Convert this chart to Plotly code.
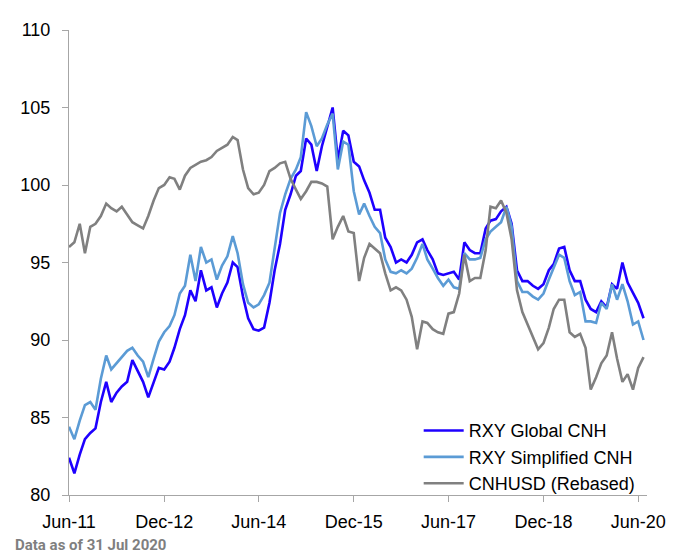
import pandas as pd
import plotly.graph_objects as go

# Month-end observation dates, Jun 2011 .. Jul 2020
dates = pd.date_range("2011-06-30", "2020-07-31", freq="ME")

rxy_global_cnh = [
    82.4, 81.4, 82.6, 83.6, 84.0, 84.3, 86.0, 87.3, 86.0, 86.6,
    87.0, 87.3, 88.7, 88.0, 87.3, 86.3, 87.3, 88.2, 88.1, 88.6,
    89.5, 90.7, 91.6, 93.2, 92.5, 94.5, 93.2, 93.4, 92.1, 93.0,
    93.7, 95.0, 94.7, 92.8, 91.4, 90.7, 90.6, 90.8, 92.4, 94.5,
    96.2, 98.4, 99.4, 100.6, 100.9, 103.0, 102.6, 100.9, 102.5, 103.7,
    105.0, 101.6, 103.5, 103.2, 101.5, 101.2, 100.3, 99.5, 98.4, 98.4,
    96.6, 96.0, 95.0, 95.2, 95.0, 95.5, 96.3, 96.5, 95.8, 95.2,
    94.3, 94.2, 94.3, 94.4, 93.9, 96.3, 95.8, 95.6, 95.6, 97.2,
    97.7, 97.8, 98.3, 98.6, 97.5, 94.5, 93.8, 93.8, 93.5, 93.3,
    93.6, 94.5, 94.9, 95.9, 96.0, 94.5, 93.8, 93.8, 92.6, 92.0,
    91.8, 92.5, 92.1, 93.6, 93.3, 95.0, 93.7, 93.0, 92.4, 91.4,
]

rxy_simplified_cnh = [
    84.4, 83.6, 84.8, 85.8, 86.0, 85.5, 87.5, 89.0, 88.1, 88.5,
    88.9, 89.3, 89.5, 89.0, 88.6, 87.6, 88.8, 89.9, 90.5, 90.9,
    91.6, 93.0, 93.5, 95.5, 93.8, 96.0, 95.0, 95.2, 93.9, 94.8,
    95.4, 96.7, 95.6, 93.6, 92.4, 92.1, 92.3, 92.9, 93.7, 95.9,
    98.2, 99.4, 100.4, 101.0, 101.8, 104.7, 103.8, 102.5, 103.0, 103.9,
    104.6, 101.0, 102.8, 102.6, 99.6, 98.1, 98.8, 98.0, 97.3, 96.9,
    95.2, 94.4, 94.3, 94.5, 94.3, 94.6, 95.3, 96.2, 95.2, 94.6,
    94.0, 93.5, 93.9, 93.4, 93.3, 95.6, 95.2, 95.2, 95.3, 96.5,
    97.0, 97.3, 97.6, 98.6, 97.3, 93.8, 93.1, 93.1, 92.8, 92.6,
    93.0, 93.9, 94.7, 95.5, 95.3, 93.8, 92.9, 93.1, 91.2, 91.2,
    91.1, 92.4, 92.0, 93.6, 92.6, 93.6, 92.5, 91.0, 91.2, 90.0,
]

cnhusd_rebased = [
    96.0, 96.3, 97.5, 95.6, 97.3, 97.5, 98.0, 98.8, 98.5, 98.3,
    98.6, 98.1, 97.6, 97.4, 97.2, 98.0, 99.0, 99.8, 100.0, 100.5,
    100.4, 99.7, 100.6, 101.1, 101.3, 101.5, 101.6, 101.8, 102.2, 102.4,
    102.6, 103.1, 102.9, 101.0, 99.8, 99.4, 99.5, 100.0, 100.9, 101.1,
    101.4, 101.5, 100.4, 99.7, 99.1, 99.6, 100.2, 100.2, 100.1, 99.9,
    96.5, 97.3, 98.0, 97.0, 96.9, 93.8, 95.3, 96.2, 95.9, 95.6,
    94.3, 93.2, 93.4, 93.2, 92.6, 91.5, 89.4, 91.2, 91.1, 90.7,
    90.5, 90.4, 91.7, 91.8, 93.0, 95.5, 93.8, 94.0, 94.0, 95.8,
    98.6, 98.5, 99.0, 98.2, 96.5, 93.2, 91.8, 91.0, 90.2, 89.4,
    89.8, 90.8, 92.0, 92.6, 92.6, 90.5, 90.2, 90.4, 89.5, 86.8,
    87.6, 88.5, 89.0, 90.5, 88.8, 87.3, 87.8, 86.8, 88.2, 88.9,
]

tick_dates = ["2011-06-30", "2012-12-31", "2014-06-30", "2015-12-31",
              "2017-06-30", "2018-12-31", "2020-06-30"]
tick_labels = ["Jun-11", "Dec-12", "Jun-14", "Dec-15", "Jun-17", "Dec-18", "Jun-20"]

series = [
    ("RXY Global CNH", rxy_global_cnh, "#1e00ff"),
    ("RXY Simplified CNH", rxy_simplified_cnh, "#5b9bd5"),
    ("CNHUSD (Rebased)", cnhusd_rebased, "#808080"),
]

FONT = "Liberation Sans, Arial, sans-serif"

fig = go.Figure()
for name, vals, color in series:
    fig.add_trace(go.Scatter(x=dates, y=vals, mode="lines", name=name,
                             line=dict(color=color, width=2.6)))

fig.update_layout(
    width=670, height=552,
    margin=dict(l=59, r=22, t=16, b=65),
    paper_bgcolor="white", plot_bgcolor="white",
    font=dict(family=FONT, size=18, color="#000000"),
    showlegend=True,
    legend=dict(x=0.605, y=0.178, xanchor="left", yanchor="top",
                bgcolor="rgba(0,0,0,0)", font=dict(size=18, color="#000000"),
                tracegroupgap=0, itemwidth=40),
    xaxis=dict(
        range=["2011-06-30", "2020-08-20"],
        tickvals=tick_dates, ticktext=tick_labels,
        showgrid=False, zeroline=False,
        showline=True, linecolor="#a6a6a6", linewidth=1,
        ticks="outside", ticklen=6, tickcolor="#a6a6a6",
        ticklabelstandoff=4,
        tickfont=dict(size=18),
    ),
    yaxis=dict(
        range=[80, 110], dtick=5,
        showgrid=False, zeroline=False,
        showline=True, linecolor="#a6a6a6", linewidth=1,
        ticks="outside", ticklen=6, tickcolor="#a6a6a6",
        ticklabelstandoff=8,
        tickfont=dict(size=18),
    ),
    annotations=[dict(
        text="<b>Data as of 31 Jul 2020</b>", xref="paper", yref="paper",
        x=-0.097, y=-0.108, xanchor="left", yanchor="middle", showarrow=False,
        font=dict(family="Liberation Sans Narrow, Arial Narrow, Roboto, sans-serif",
                  size=15, color="#7f7f7f"),
    )],
)

fig.write_html("out.html")
